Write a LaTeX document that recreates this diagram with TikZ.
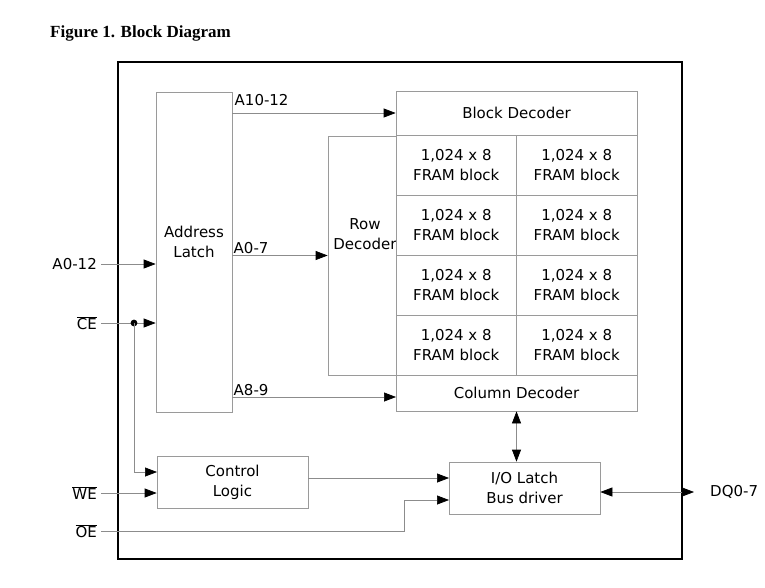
\documentclass[tikz,border=0pt]{standalone}
\usepackage{fontspec}
\setmainfont{DejaVu Sans}
\newfontfamily\titlefont{Liberation Serif}
\usetikzlibrary{arrows.meta,positioning,calc}
\definecolor{wire}{HTML}{8C8C8C}
\definecolor{frame}{HTML}{9A9A9A}

\begin{document}
\begin{tikzpicture}[x=1pt,y=-1pt,font=\fontsize{15}{20}\selectfont,>={Triangle[length=12pt,width=9pt,color=black]}]
  \tikzset{block/.style={draw=frame,line width=0.7pt,inner sep=0pt,align=center},
    wire/.style={draw=wire,line width=0.7pt,->},
    pin/.style={anchor=east,inner sep=4pt},
    lab/.style={inner sep=1pt,anchor=south west}}
  \useasboundingbox (0,0) rectangle (765,587);
  \node[font=\titlefont\bfseries\fontsize{17}{20}\selectfont,anchor=west,inner sep=0pt] (title) at (50,33) {Figure 1. Block Diagram};
  \node[draw,line width=2.2pt,minimum width=564pt,minimum height=497pt,inner sep=0pt] (chip) at (400,310.5) {};
  % address latch and decoders
  \node[block,minimum width=76pt,minimum height=320pt] (latch) at (194,252) {};
  \node[align=center] (latchtxt) at (194,242) {Address\\Latch};
  \node[block,minimum width=241pt,minimum height=44pt] (bdec) at (516.5,113) {Block Decoder};
  \node[block,minimum width=68pt,minimum height=239pt] (rowdec) at (362,255.5) {};
  \node[align=center] (rowtxt) at (365,234) {Row\\Decoder};
  \foreach \r in {0,...,3}
    \foreach \c in {0,1}
      \node[block,minimum width=120.5pt,minimum height=60pt] (cell\r\c) at ({456.25+\c*120.5},{165+\r*60}) {1,024 x 8\\FRAM block};
  \node[block,minimum width=241pt,minimum height=36pt] (coldec) at (516.5,393) {Column Decoder};
  \node[block,minimum width=151pt,minimum height=52pt] (ctrl) at (232.5,482) {Control\\Logic};
  \node[block,minimum width=151pt,minimum height=52pt] (io) at (524.5,488) {I/O Latch\\Bus driver};
  % pins
  \node[pin] (a012) at (101,264) {A0-12};
  \node[pin] (ce) at (101,323) {$\overline{\mbox{CE}}$};
  \node[pin] (we) at (101,493) {$\overline{\mbox{WE}}$};
  \node[pin] (oe) at (101,531) {$\overline{\mbox{OE}}$};
  \node[anchor=west,inner sep=4pt] (dq) at (706,492) {DQ0-7};
  \coordinate (cedot) at (134,323);
  \coordinate (ctrlin) at (157,472);
  \coordinate (ioin1) at (449,478);
  \coordinate (ioin2) at (449,500);
  \coordinate (oebend) at (404,531);
  \coordinate (a89) at (396,397);
  % connections
  \draw[wire] (latch.east |- bdec.west) -- node[lab,pos=0,inner sep=2pt,yshift=5pt] {A10-12} (bdec.west);
  \draw[wire] (latch.east |- rowdec.west) -- node[lab,pos=0] {A0-7} (rowdec.west);
  \draw[wire] (latch.east |- a89) -- node[lab,pos=0] {A8-9} (a89);
  \draw[wire] (a012) -- (latch.west |- a012);
  \draw[wire] (ce) -- (latch.west |- ce);
  \fill (cedot) circle (3.4pt);
  \draw[wire] (cedot) |- (ctrlin);
  \draw[wire] (we) -- (ctrl.west |- we);
  \draw[wire] (ctrl.east |- ioin1) -- (ioin1);
  \draw[wire] (oe) -- (oebend) |- (ioin2);
  \draw[wire,<->] (coldec.south) -- (coldec.south |- io.north);
  \draw[wire,<->,shorten >=12pt] (io.east |- dq.west) -- (dq.west);
\end{tikzpicture}
\end{document}
